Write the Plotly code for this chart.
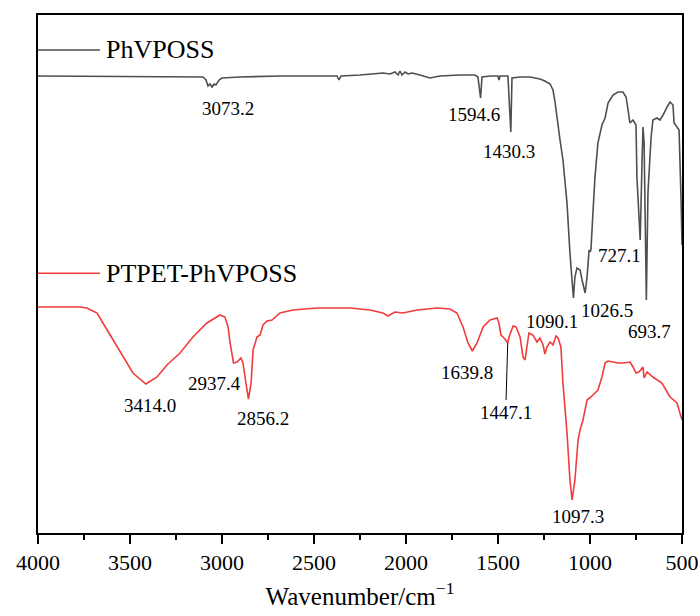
import plotly.graph_objects as go

# PhVPOSS spectrum (wavenumber cm-1, intensity a.u.)
ph_wn = [4000, 3663, 3391, 3174, 3103, 3087, 3076, 3065, 3054, 3043, 3033, 3016, 3000, 2902, 2685,
         2467, 2375, 2364, 2353, 2250, 2125, 2087, 2060, 2043, 2033, 2022, 2005, 1989, 1967, 1924,
         1870, 1815, 1707, 1625, 1609, 1594.6, 1587, 1543, 1500, 1495, 1489, 1446, 1430.3, 1424,
         1380, 1326, 1272, 1245, 1217, 1201, 1190, 1163, 1147, 1125, 1109, 1090.1, 1082, 1071, 1054,
         1043, 1026.5, 1016, 1005, 1000, 995, 984, 973, 957, 935, 918, 902, 875, 848, 821, 804, 793,
         783, 766, 750, 745, 727.1, 717, 712, 706, 693.7, 685, 668, 658, 636, 620, 603, 581, 565, 549,
         543, 527, 516, 505, 500]
ph_val = [457, 456.5, 456, 456, 456, 453, 447, 449, 446, 449, 448, 453, 455, 456, 457,
          457, 457, 453, 457, 458, 460, 459, 461, 458, 462, 458, 461, 459, 460, 458,
          455, 457, 458, 458, 456, 435, 456, 457, 457, 453, 457, 457, 401, 455,
          456, 456, 454, 452, 449, 443, 431, 393, 373, 330, 280, 235, 256, 265, 263,
          253, 240, 256, 283, 281, 283, 320, 356, 390, 408, 415, 430, 438, 441, 441, 436, 423,
          410, 413, 408, 356, 293, 373, 406, 390, 233, 340, 396, 413, 415, 413, 418, 426, 431, 428,
          410, 406, 403, 333, 288]

# PTPET-PhVPOSS spectrum
pt_wn = [4000, 3880, 3772, 3734, 3679, 3647, 3592, 3538, 3484, 3414.0, 3353, 3299, 3228, 3158, 3082,
         3011, 2984, 2967, 2956, 2937.4, 2918, 2897, 2886, 2870, 2856.2, 2842, 2831, 2810, 2793, 2777,
         2755, 2728, 2685, 2614, 2484, 2304, 2196, 2125, 2098, 2060, 2016, 1940, 1831, 1761, 1723,
         1690, 1663, 1639.8, 1614, 1581, 1543, 1505, 1495, 1484, 1462, 1447.1, 1440, 1418, 1402,
         1380, 1364, 1353, 1342, 1332, 1310, 1288, 1272, 1255, 1245, 1234, 1217, 1201, 1185, 1174,
         1158, 1147, 1125, 1109, 1097.3, 1082, 1065, 1054, 1038, 1016, 995, 973, 957, 935, 918, 902,
         875, 848, 821, 783, 766, 750, 734, 712, 706, 690, 658, 609, 565, 527, 500]
pt_val = [226, 226, 226, 225, 220, 210, 193, 176, 160, 149, 156, 168, 180, 196, 210,
          218, 216, 206, 190, 170, 171, 175, 170, 150, 134, 150, 183, 196, 198, 208,
          212, 213, 220, 223, 225, 225, 223, 220, 217, 221, 220, 223, 225, 224, 220,
          206, 190, 182, 190, 206, 213, 215, 210, 198, 194, 190, 196, 207, 206,
          196, 176, 173, 190, 200, 198, 191, 195, 188, 179, 186, 191, 188, 197, 195,
          186, 150, 100, 53, 33, 53, 93, 103, 113, 133, 136, 140, 143, 156, 170, 172,
          171, 170, 170, 171, 166, 160, 161, 166, 155, 161, 156, 150, 136, 130, 113]

# Peak labels: (text, x, y) positions in data units
ph_labels = [("3073.2", 2970, 425), ("1594.6", 1630, 419), ("1430.3", 1440, 382),
             ("727.1", 837, 278), ("1026.5", 908, 223), ("1090.1", 1206, 212), ("693.7", 674, 202)]
pt_labels = [("3414.0", 3391, 128), ("2937.4", 3043, 150), ("2856.2", 2777, 115),
             ("1639.8", 1668, 161), ("1097.3", 1065, 17)]

x_ticks = [4000, 3500, 3000, 2500, 2000, 1500, 1000, 500]

GRAY = "#4f4f4f"
RED = "#f03c3c"
FONT = "Liberation Serif, Times New Roman, serif"

fig = go.Figure()
fig.add_trace(go.Scatter(x=ph_wn, y=ph_val, mode="lines", name="PhVPOSS",
                         line=dict(color=GRAY, width=1.6), showlegend=False))
fig.add_trace(go.Scatter(x=pt_wn, y=pt_val, mode="lines", name="PTPET-PhVPOSS",
                         line=dict(color=RED, width=1.6), showlegend=False))

for t, x, y in ph_labels + pt_labels:
    fig.add_annotation(x=x, y=y, text=t, showarrow=False,
                       font=dict(family=FONT, size=19, color="black"))

# leader line label for 1447.1
fig.add_annotation(x=1447.1, y=190, text="1447.1", showarrow=True, arrowhead=0,
                   arrowwidth=1, arrowcolor="black", ax=-2, ay=69, standoff=0,
                   font=dict(family=FONT, size=19, color="black"))

# legend-style labels
for name, color, ypos in [("PhVPOSS", GRAY, 0.9325), ("PTPET-PhVPOSS", RED, 0.5014)]:
    fig.add_shape(type="line", xref="paper", yref="paper", x0=0, x1=0.0963, y0=ypos, y1=ypos,
                  line=dict(color=color, width=1.6))
    fig.add_annotation(xref="paper", yref="paper", x=0.103, y=ypos, text=name, showarrow=False,
                       xanchor="left", yanchor="middle",
                       font=dict(family=FONT, size=26, color="black"))

fig.update_layout(
    width=700, height=616,
    margin=dict(l=38, r=18, t=15, b=83, autoexpand=False),
    plot_bgcolor="white", paper_bgcolor="white",
    font=dict(family=FONT, color="black"),
)
fig.update_xaxes(
    range=[4000, 500], tickvals=x_ticks, ticktext=[str(v) for v in x_ticks],
    showgrid=False, zeroline=False, automargin=False,
    showline=True, linecolor="black", linewidth=2, mirror=True,
    ticks="outside", ticklen=9, tickwidth=2, tickcolor="black",
    tickfont=dict(family=FONT, size=22, color="black"),
    minor=dict(tickvals=[3750, 3250, 2750, 2250, 1750, 1250, 750], ticks="outside",
               ticklen=5, tickwidth=2, tickcolor="black", showgrid=False),
    title=dict(text="Wavenumber/cm<sup>\u22121</sup>", font=dict(family=FONT, size=25, color="black"), standoff=13),
)
fig.update_yaxes(
    range=[0, 518], showticklabels=False, ticks="", showgrid=False, zeroline=False,
    automargin=False,
    showline=True, linecolor="black", linewidth=2, mirror=True,
)

fig.write_html("out.html", config={"displayModeBar": False},
               post_script="document.body.style.margin='0';document.body.style.overflow='hidden';")
